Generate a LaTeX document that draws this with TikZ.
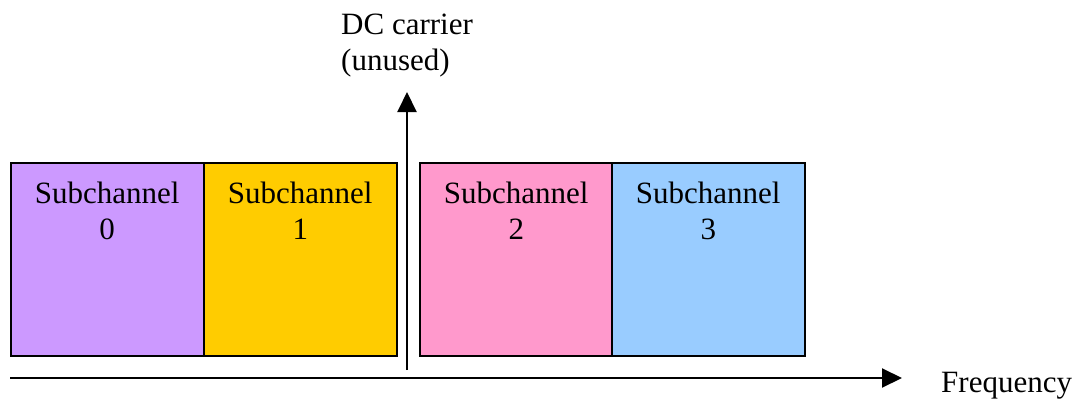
\documentclass[tikz,border=0pt]{standalone}
\usepackage{fontspec}
\setmainfont{Liberation Serif}
\usepackage{xcolor}
\usetikzlibrary{arrows.meta,positioning}
\definecolor{subpurple}{HTML}{CC99FF}
\definecolor{subyellow}{HTML}{FFCC00}
\definecolor{subpink}{HTML}{FF99CC}
\definecolor{subblue}{HTML}{99CCFF}
\tikzstyle{band} = [rectangle, draw=black, line width=1.5pt, minimum width=193pt, minimum height=193pt, inner sep=0pt, anchor=north west]
\tikzstyle{bandtext} = [inner sep=0pt, align=center, anchor=north, font=\fontsize{31}{36}\selectfont]
\tikzstyle{axis} = [line width=2pt, -{Triangle[length=20pt,width=19pt]}]

\begin{document}
\begin{tikzpicture}[x=1pt, y=-1pt]
      \useasboundingbox (0,0) rectangle (1078,399);
      %Subchannels
      \draw (10,162) node[band, fill=subpurple] (sub0) {};
      \draw (203,162) node[band, fill=subyellow] (sub1) {};
      \draw (419,162) node[band, fill=subpink] (sub2) {};
      \draw (611,162) node[band, fill=subblue] (sub3) {};
      \node[bandtext] (lab0) at ([yshift=-20pt]sub0.north) {Subchannel\\0};
      \node[bandtext] (lab1) at ([yshift=-20pt]sub1.north) {Subchannel\\1};
      \node[bandtext] (lab2) at ([yshift=-20pt]sub2.north) {Subchannel\\2};
      \node[bandtext] (lab3) at ([yshift=-20pt]sub3.north) {Subchannel\\3};

      %DC carrier
      \coordinate (dcbot) at (407,370);
      \coordinate (dctop) at (407,92);
      \draw [axis] (dcbot) -- (dctop);
      \node[bandtext, anchor=north west, align=left] (dc) at (341,14) {DC carrier\\(unused)};

      %Frequency axis
      \coordinate (fstart) at (10,378);
      \coordinate (fend) at (902,378);
      \draw [axis] (fstart) -- (fend);
      \node[bandtext, anchor=base west] (freq) at (941,392) {Frequency};
    \end{tikzpicture}
\end{document}
